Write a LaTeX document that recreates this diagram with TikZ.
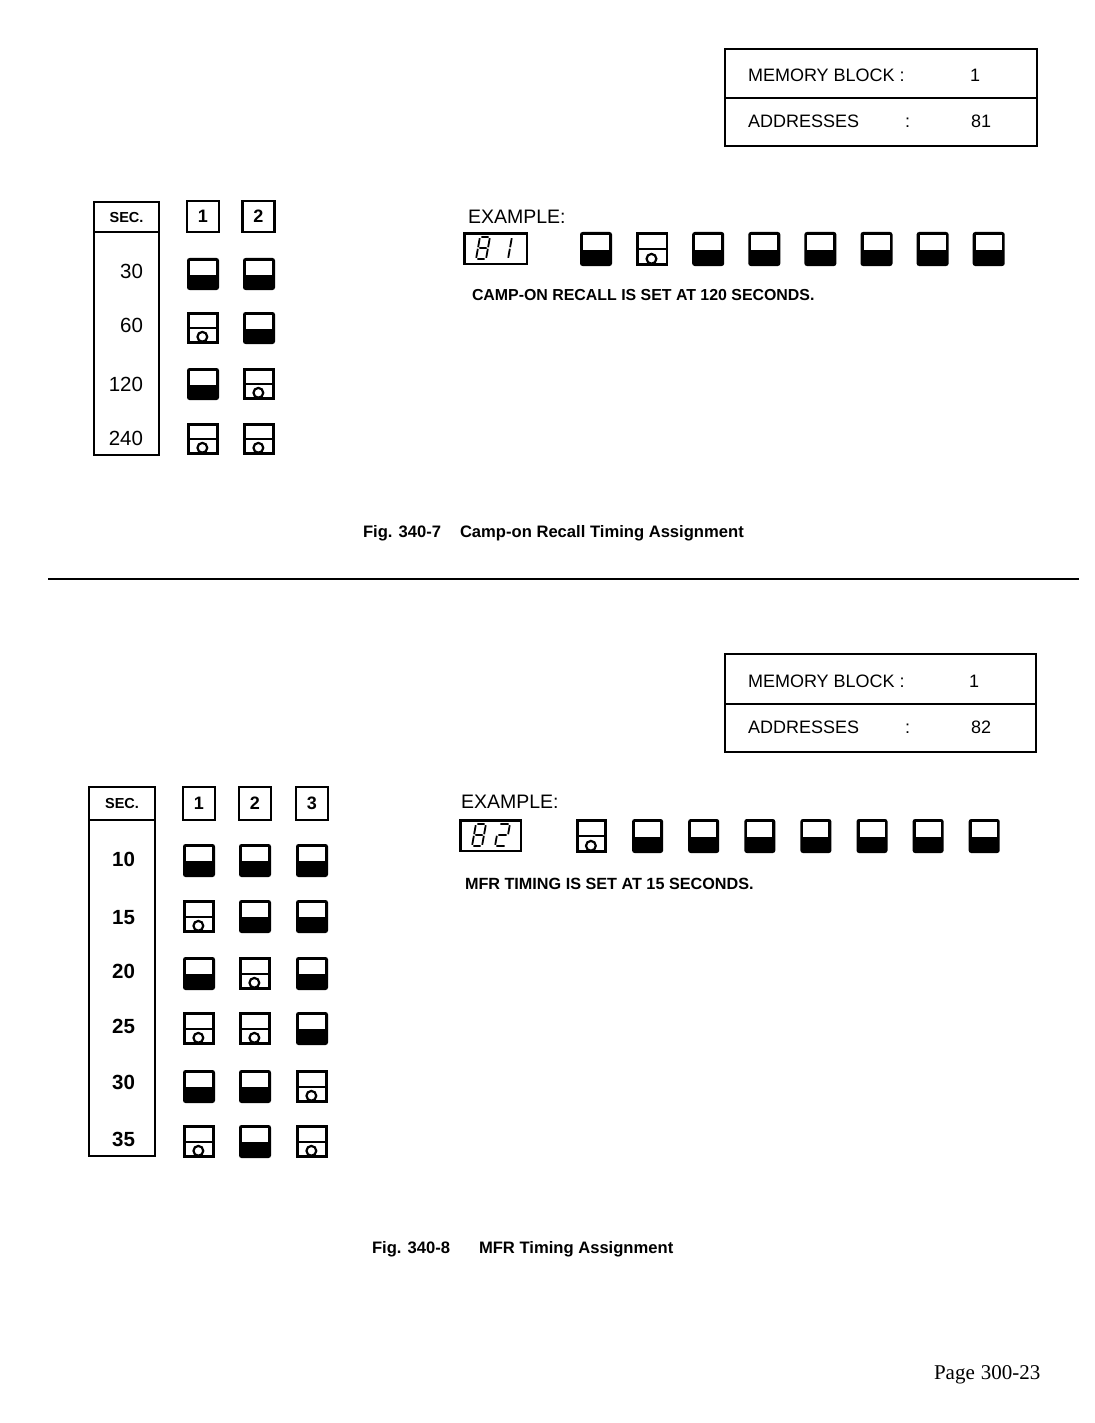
\documentclass[tikz,border=0pt]{standalone}
\usepackage{fontspec}
\setmainfont{Liberation Sans}
\newfontfamily\serifpage{Liberation Serif}
\newcommand\fs[1]{\fontsize{#1}{#1}\selectfont}
% filled (set) switch
\newcommand\swF[4]{%
  \fill[black,rounded corners=2.5pt] (#1,#2) rectangle ++(#3,#4);
  \fill[white] ({#1+3},{#2+3.2}) rectangle ({#1+#3-3},{#2+0.52*#4});
}
% open switch with circle
\newcommand\swO[4]{%
  \draw[line width=2.6pt] ({#1+1.3},{#2+1.3}) rectangle ({#1+#3-1.3},{#2+#4-1.3});
  \draw[line width=2.2pt] (#1,{#2+0.51*#4}) -- ({#1+#3},{#2+0.51*#4});
  \draw[line width=2.2pt] ({#1+0.48*#3},{#2+#4-7.2}) circle (4.9pt);
}
\begin{document}
\begin{tikzpicture}[x=1pt,y=-1pt,
  frame/.style={line width=2.7pt},
  thinframe/.style={line width=2pt},
  lbl/.style={anchor=base west, inner sep=0pt, outer sep=0pt},
  rlbl/.style={anchor=base east, inner sep=0pt, outer sep=0pt},
  segline/.style={line width=1.8pt},
  hdr/.style={draw, line width=2.4pt, minimum width=32pt, inner sep=0pt, font=\fs{18}\bfseries},
  seg8/.pic={\draw[segline] (5.26,-22)--(12.66,-22) (13.74,-20.8)--(12.12,-11.8) (11.84,-10.2)--(10.22,-1.2) (1.3,0)--(8.7,0) (1.84,-10.2)--(0.22,-1.2) (3.74,-20.8)--(2.12,-11.8) (3.28,-11)--(10.68,-11);},
  seg1/.pic={\draw[segline] (13.74,-20.8)--(12.12,-11.8) (11.84,-10.2)--(10.22,-1.2);},
  seg2/.pic={\draw[segline] (5.26,-22)--(13.66,-22) (14.74,-20.8)--(13.12,-11.8) (3.28,-11)--(11.68,-11) (1.84,-10.2)--(0.22,-1.2) (1.3,0)--(9.7,0);},
]
\useasboundingbox[fill=white] (0,0) rectangle (1094,1423);

%%%%%%%%%%%%%%%% FIGURE 340-7 %%%%%%%%%%%%%%%%
% memory block box
\draw[thinframe] (725,49) rectangle (1037,146);
\draw[thinframe] (725,98) -- (1037,98);
\node[lbl, font=\fs{18}] (mbA) at (748,82) {MEMORY BLOCK :};
\node[lbl, font=\fs{18}] (mbvA) at (970,82) {1};
\node[lbl, font=\fs{18}] (adA) at (748,128) {ADDRESSES};
\node[lbl, font=\fs{18}] (adcA) at (905,128) {:};
\node[lbl, font=\fs{18}] (advA) at (971,128) {81};

% SEC table
\draw[frame] (94,202) rectangle (159,455);
\draw[frame] (94,232) -- (159,232);
\node[font=\fs{14.5}\bfseries, inner sep=0pt] (secA) at (126.5,218) {SEC.};
\node[rlbl, font=\fs{20.5}] (tA1) at (143,278) {30};
\node[rlbl, font=\fs{20.5}] (tA2) at (143,332) {60};
\node[rlbl, font=\fs{20.5}] (tA3) at (143,391) {120};
\node[rlbl, font=\fs{20.5}] (tA4) at (143,445) {240};

% column headers
\node[hdr, minimum height=31pt] (hA1) at (203,216.5) {1};
\node[hdr, minimum height=31pt] (hA2) at (258.5,216.5) {2};

% switches
\swF{187}{258}{32}{32} \swF{243}{258}{32}{32}
\swO{187}{312}{32}{32} \swF{243}{312}{32}{32}
\swF{187}{368}{32}{32} \swO{243}{368}{32}{32}
\swO{187}{423}{32}{32} \swO{243}{423}{32}{32}

% example
\node[lbl, font=\fs{19.5}] (exA) at (468,224) {EXAMPLE:};
\draw[frame] (464.5,233.5) rectangle (527,264);
\begin{scope}[shift={(476,259)}] \pic {seg8}; \end{scope}
\begin{scope}[shift={(498,259)}] \pic {seg1}; \end{scope}
\swF{580}{232}{32}{34}
\swO{636.1}{232}{32}{34}
\foreach \i in {2,...,7} { \swF{580+56.1*\i}{232}{32}{34} }
\node[lbl, font=\fs{15.9}\bfseries] (noteA) at (472,300) {CAMP-ON RECALL IS SET AT 120 SECONDS.};

% caption
\node[lbl, font=\fs{16.6}\bfseries] (figA) at (363,537) {Fig. 340-7};
\node[lbl, font=\fs{16.6}\bfseries] (capA) at (460,537) {Camp-on Recall Timing Assignment};

% separating rule
\draw[line width=1.8pt] (48,579) -- (1079,579);

%%%%%%%%%%%%%%%% FIGURE 340-8 %%%%%%%%%%%%%%%%
\draw[thinframe] (725,654) rectangle (1036,752);
\draw[thinframe] (725,704) -- (1036,704);
\node[lbl, font=\fs{18}] (mbB) at (748,687) {MEMORY BLOCK :};
\node[lbl, font=\fs{18}] (mbvB) at (969,687) {1};
\node[lbl, font=\fs{18}] (adB) at (748,733) {ADDRESSES};
\node[lbl, font=\fs{18}] (adcB) at (905,733) {:};
\node[lbl, font=\fs{18}] (advB) at (971,733) {82};

% SEC table
\draw[frame] (89,787) rectangle (155,1156);
\draw[frame] (89,820) -- (155,820);
\node[font=\fs{14.5}\bfseries, inner sep=0pt] (secB) at (122,804) {SEC.};
\node[rlbl, font=\fs{20.5}\bfseries] (tB1) at (135,866) {10};
\node[rlbl, font=\fs{20.5}\bfseries] (tB2) at (135,924) {15};
\node[rlbl, font=\fs{20.5}\bfseries] (tB3) at (135,978) {20};
\node[rlbl, font=\fs{20.5}\bfseries] (tB4) at (135,1033) {25};
\node[rlbl, font=\fs{20.5}\bfseries] (tB5) at (135,1089) {30};
\node[rlbl, font=\fs{20.5}\bfseries] (tB6) at (135,1146) {35};

\node[hdr, minimum height=33pt] (hB1) at (199,803.5) {1};
\node[hdr, minimum height=33pt] (hB2) at (255,803.5) {2};
\node[hdr, minimum height=33pt] (hB3) at (312,803.5) {3};

\swF{183}{844}{32}{33}  \swF{239}{844}{32}{33}  \swF{296}{844}{32}{33}
\swO{183}{900}{32}{33}  \swF{239}{900}{32}{33}  \swF{296}{900}{32}{33}
\swF{183}{957}{32}{33}  \swO{239}{957}{32}{33}  \swF{296}{957}{32}{33}
\swO{183}{1012}{32}{33} \swO{239}{1012}{32}{33} \swF{296}{1012}{32}{33}
\swF{183}{1070}{32}{33} \swF{239}{1070}{32}{33} \swO{296}{1070}{32}{33}
\swO{183}{1125}{32}{33} \swF{239}{1125}{32}{33} \swO{296}{1125}{32}{33}

% example
\node[lbl, font=\fs{19.5}] (exB) at (461,808) {EXAMPLE:};
\draw[frame] (460.5,820.5) rectangle (521,851);
\begin{scope}[shift={(472,846)}] \pic {seg8}; \end{scope}
\begin{scope}[shift={(495,846)}] \pic {seg2}; \end{scope}
\swO{576}{819}{31}{34}
\foreach \i in {1,...,7} { \swF{576+56.1*\i}{819}{31}{34} }
\node[lbl, font=\fs{16.2}\bfseries] (noteB) at (465,889) {MFR TIMING IS SET AT 15 SECONDS.};

% caption
\node[lbl, font=\fs{16.6}\bfseries] (figB) at (372,1253) {Fig. 340-8};
\node[lbl, font=\fs{16.6}\bfseries] (capB) at (479,1253) {MFR Timing Assignment};

% page number
\node[lbl, font=\serifpage\fs{21}] (page) at (934,1379) {Page\hspace{6pt}300-23};
\end{tikzpicture}
\end{document}
